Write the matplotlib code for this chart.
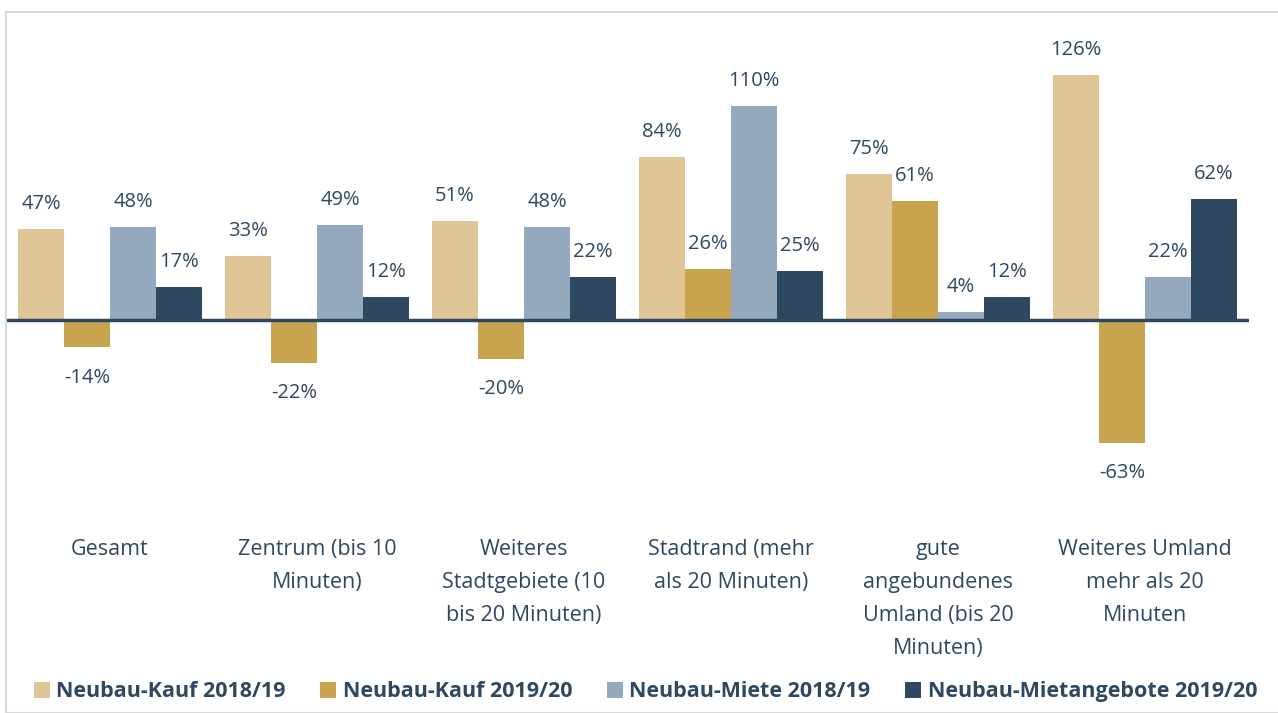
import numpy as np
import matplotlib
matplotlib.use("Agg")
import matplotlib.pyplot as plt
from matplotlib.patches import Rectangle

categories = ["Gesamt", "Zentrum (bis 10\nMinuten)",
              "Weiteres\nStadtgebiete (10\nbis 20 Minuten)",
              "Stadtrand (mehr\nals 20 Minuten)",
              "gute\nangebundenes\nUmland (bis 20\nMinuten)",
              "Weiteres Umland\nmehr als 20\nMinuten"]
series = ["Neubau-Kauf 2018/19", "Neubau-Kauf 2019/20",
          "Neubau-Miete 2018/19", "Neubau-Mietangebote 2019/20"]
kauf_1819 = [47, 33, 51, 84, 75, 126]
kauf_1920 = [-14, -22, -20, 26, 61, -63]
miete_1819 = [48, 49, 48, 110, 4, 22]
miete_1920 = [17, 12, 22, 25, 12, 62]
colors = ["#E0C596", "#C9A44F", "#94A9BE", "#2E4862"]
txt = "#2E4862"

plt.rcParams['font.family'] = ['Open Sans', 'DejaVu Sans']

fig = plt.figure(figsize=(12.78, 7.13), dpi=100)
fig.patches.append(Rectangle((6/1278, 0), 1.0, 1 - 12/713, transform=fig.transFigure,
                             fill=False, edgecolor="#D9D9D9", linewidth=1.5))
ax = fig.add_axes([6.5/1278, (713-495)/713, 1242/1278, (495-28.4)/713])

x = np.arange(len(categories))
w = 1/4.5
data = [kauf_1819, kauf_1920, miete_1819, miete_1920]
for i, (vals, c, name) in enumerate(zip(data, colors, series)):
    pos = x - 1.5*w + i*w
    ax.bar(pos, vals, w, color=c, label=name)
    for p, v in zip(pos, vals):
        if v >= 0:
            ax.annotate(f"{v}%", (p, v), xytext=(0, 18), textcoords="offset points",
                        ha="center", va="center", fontsize=14.5, color=txt)
        else:
            ax.annotate(f"{v}%", (p, v), xytext=(0, -22), textcoords="offset points",
                        ha="center", va="center", fontsize=14.5, color=txt)

ax.axhline(0, color=txt, linewidth=2.5)
ax.set_xlim(-0.5, len(categories) - 0.5)
ax.set_ylim(-90, 150)
ax.set_yticks([])
ax.set_xticks(x)
ax.set_xticklabels(categories, fontsize=15.5, color=txt, linespacing=1.75, va="top")
ax.tick_params(axis="x", length=0, pad=32)
for s in ax.spines.values():
    s.set_visible(False)

leg = fig.legend(loc="lower center", bbox_to_anchor=(0.505, -0.012), ncol=4, frameon=False,
                 handlelength=0.75, handleheight=0.75, handletextpad=0.3, columnspacing=1.6,
                 prop={"weight": "bold", "size": 15.5})
for t in leg.get_texts():
    t.set_color(txt)

fig.savefig("out.png", dpi=100)
